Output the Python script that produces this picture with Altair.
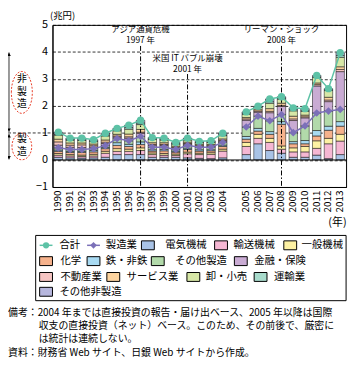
import altair as alt
import pandas as pd

FONT = "Noto Sans CJK JP"

# ---------------- data ----------------
years_a = [str(y) for y in range(1990, 2005)]
years_b = [str(y) for y in range(2005, 2014)]
years = years_a + years_b
x_domain = years_a + ["gap"] + years_b

categories = ["電気機械", "輸送機械", "一般機械", "化学", "鉄・非鉄", "その他製造",
              "金融・保険", "不動産業", "サービス業", "卸・小売", "運輸業", "その他非製造"]
colors = ["#a9c3e6", "#f5b7d3", "#fdf1a3", "#f6b28c", "#a8daf2", "#b2daaa",
          "#c9abd3", "#f6c5c3", "#fdd49f", "#d7e7a6", "#a8dbcc", "#b6b6dd"]

denki = [0.10, 0.08, 0.07, 0.08, 0.10, 0.20, 0.20, 0.20, 0.10, 0.10, 0.10, 0.08, 0.06, 0.05, 0.08,
         0.20, 0.60, 0.35, 0.25, 0.10, 0.10, 0.18, 0.05, 0.20]
yuso = [0.08, 0.07, 0.06, 0.07, 0.15, 0.12, 0.12, 0.15, 0.10, 0.08, 0.07, 0.15, 0.14, 0.16, 0.25,
        0.30, 0.20, 0.30, 0.15, 0.20, 0.20, 0.25, 0.55, 0.50]
ippan = [0.06, 0.05, 0.05, 0.06, 0.07, 0.10, 0.08, 0.10, 0.06, 0.06, 0.05, 0.06, 0.05, 0.06, 0.07,
         0.15, 0.15, 0.15, 0.12, 0.15, 0.20, 0.28, 0.20, 0.25]
kagaku = [0.08, 0.08, 0.10, 0.09, 0.10, 0.12, 0.10, 0.12, 0.07, 0.10, 0.07, 0.10, 0.08, 0.07, 0.10,
          0.12, 0.12, 0.15, 0.80, 0.15, 0.10, 0.18, 0.30, 0.30]
tetsu = [0.05, 0.04, 0.04, 0.05, 0.04, 0.10, 0.08, 0.10, 0.05, 0.05, 0.04, 0.05, 0.05, 0.04, 0.05,
         0.10, 0.10, 0.10, 0.10, 0.08, 0.12, 0.20, 0.15, 0.17]
sonota_sei = [0.08, 0.07, 0.07, 0.07, 0.07, 0.15, 0.13, 0.20, 0.09, 0.08, 0.06, 0.10, 0.09, 0.09, 0.10,
              0.35, 0.45, 0.40, 0.26, 0.33, 0.54, 0.65, 0.56, 0.45]
kinyu = [0.10, 0.08, 0.07, 0.06, 0.08, 0.06, 0.10, 0.12, 0.08, 0.08, 0.05, 0.05, 0.04, 0.04, 0.05,
         0.25, 0.15, 0.30, 0.30, 0.45, 0.30, 1.00, 0.35, 1.40]
fudosan = [0.12, 0.08, 0.10, 0.05, 0.05, 0.04, 0.05, 0.04, 0.03, 0.03, 0.02, 0.02, 0.02, 0.02, 0.03,
           0.05, 0.04, 0.05, 0.04, 0.06, 0.04, 0.05, 0.06, 0.08]
service = [0.10, 0.08, 0.07, 0.06, 0.08, 0.06, 0.10, 0.10, 0.06, 0.06, 0.05, 0.05, 0.04, 0.04, 0.05,
           0.05, 0.05, 0.10, 0.08, 0.10, 0.06, 0.06, 0.10, 0.10]
oroshi = [0.15, 0.10, 0.09, 0.09, 0.15, 0.13, 0.18, 0.18, 0.12, 0.10, 0.08, 0.08, 0.07, 0.08, 0.12,
          0.12, 0.08, 0.20, 0.15, 0.20, 0.14, 0.20, 0.25, 0.35]
unyu = [0.03, 0.03, 0.03, 0.03, 0.04, 0.04, 0.06, 0.06, 0.03, 0.03, 0.02, 0.03, 0.02, 0.02, 0.03,
        0.04, 0.02, 0.06, 0.04, 0.05, 0.04, 0.03, 0.03, 0.07]
sonota_hi = [0.08, 0.05, 0.06, 0.04, 0.06, 0.05, 0.09, 0.10, 0.04, 0.04, 0.04, 0.04, 0.03, 0.04, 0.06,
             0.05, 0.03, 0.10, 0.05, 0.06, 0.06, 0.05, 0.04, 0.10]

total = [1.03, 0.81, 0.81, 0.75, 0.99, 1.17, 1.29, 1.47, 0.83, 0.81, 0.65, 0.81, 0.69, 0.71, 0.99,
         1.78, 1.99, 2.26, 2.34, 1.93, 1.90, 3.13, 2.64, 3.97]
manuf = [0.45, 0.39, 0.39, 0.42, 0.53, 0.79, 0.71, 0.87, 0.47, 0.47, 0.39, 0.54, 0.47, 0.47, 0.65,
         1.22, 1.62, 1.45, 1.68, 1.01, 1.26, 1.74, 1.81, 1.87]

events_year = ["1997", "1997", "2001", "2001", "2008", "2008"]
events_text = ["アジア通貨危機", "1997 年", "米国 IT バブル崩壊", "2001 年", "リーマン・ショック", "2008 年"]
events_y = [4.84, 4.45, 3.77, 3.38, 4.84, 4.45]
rule_years = ["1997", "2001", "2008"]
rule_top = [4.22, 3.18, 4.22]

side_chars = ["非", "製", "造", "製", "造"]
side_y = [3.0, 2.53, 2.06, 0.79, 0.29]

notes = ["備考：2004 年までは直接投資の報告・届け出ベース、2005 年以降は国際",
         "収支の直接投資（ネット）ベース。このため、その前後で、厳密に",
         "は統計は連続しない。",
         "資料：財務省 Web サイト、日銀 Web サイトから作成。"]

TEAL = "#5dc2a6"
PURPLE = "#7b70b8"

# ---------------- tables ----------------
series = [denki, yuso, ippan, kagaku, tetsu, sonota_sei, kinyu, fudosan, service, oroshi, unyu, sonota_hi]
bar_rows = []
for ci, (cat, vals) in enumerate(zip(categories, series)):
    for yr, v in zip(years, vals):
        bar_rows.append({"year": yr, "cat": cat, "idx": ci, "value": v})
bar_df = pd.DataFrame(bar_rows)


def seg(yr):
    return "a" if int(yr) < 2005 else "b"


tot_df = pd.DataFrame({"year": years, "value": total, "seg": [seg(y) for y in years]})
man_df = pd.DataFrame({"year": years, "value": manuf, "seg": [seg(y) for y in years]})
ev_df = pd.DataFrame({"year": events_year, "value": events_y, "text": events_text})
rule_df = pd.DataFrame({"year": rule_years, "value": rule_top, "value2": [-1] * 3})

W, H = 297, 164


def X():
    return alt.X("year:N",
                 scale=alt.Scale(domain=x_domain, paddingInner=0.28, paddingOuter=0.14),
                 axis=alt.Axis(labelAngle=270, labelFontSize=10, labelFont=FONT, ticks=False,
                               labelPadding=3, labelColor="black",
                               labelExpr="datum.label == 'gap' ? '' : datum.label",
                               domainColor="black", grid=False,
                               title="(年)", titleFont=FONT, titleFontSize=11,
                               titleFontWeight="normal", titleColor="black",
                               titleAnchor="end", titleAlign="right", titleBaseline="middle",
                               titleX=W, titleY=36))


def Y(field="value", **kw):
    return alt.Y(f"{field}:Q",
                 scale=alt.Scale(domain=[-1, 5], nice=False, zero=False),
                 axis=alt.Axis(values=[-1, 0, 1, 2, 3, 4, 5], labelFontSize=11, labelFont=FONT,
                               ticks=False, labelPadding=5, labelColor="black",
                               domainColor="black",
                               grid=True, gridColor="black", gridDash=[3, 2], gridWidth=0.8,
                               title="(兆円)", titleFont=FONT, titleFontSize=9.5,
                               titleFontWeight="normal", titleColor="black", titleAngle=0,
                               titleAlign="left", titleBaseline="alphabetic",
                               titleX=-3, titleY=-6.5),
                 **kw)


color_scale = alt.Scale(domain=categories, range=colors)

bars = alt.Chart(bar_df).mark_bar(stroke="black", strokeWidth=0.5).encode(
    x=X(), y=Y(stack="zero"),
    color=alt.Color("cat:N", scale=color_scale, legend=None),
    order=alt.Order("idx:Q", sort="ascending"))

zero = alt.Chart(pd.DataFrame({"value": [0]})).mark_rule(color="black", strokeWidth=1).encode(
    y=Y(), x=alt.value(0), x2=alt.value(W))

vrules = alt.Chart(rule_df).mark_rule(color="black", strokeWidth=1, strokeDash=[5, 2, 1.5, 2]).encode(
    x=X(), y=Y(), y2="value2:Q")

ev_text = alt.Chart(ev_df).mark_text(font=FONT, fontSize=8.5, color="black").encode(
    x=X(), y=Y(), text="text:N")

tot_line = alt.Chart(tot_df).mark_line(color=TEAL, strokeWidth=1.5).encode(
    x=X(), y=Y(), detail="seg:N")
tot_pts = alt.Chart(tot_df).mark_point(shape="circle", filled=True, size=55, color=TEAL, opacity=1).encode(
    x=X(), y=Y())
man_line = alt.Chart(man_df).mark_line(color=PURPLE, strokeWidth=1.5).encode(
    x=X(), y=Y(), detail="seg:N")
man_pts = alt.Chart(man_df).mark_point(shape="diamond", filled=True, size=60, color=PURPLE, opacity=1).encode(
    x=X(), y=Y())

# left side annotation (non-manufacturing / manufacturing ranges)
one_df = pd.DataFrame({"value": [1]})
left_dash = alt.Chart(one_df).mark_rule(color="black", strokeWidth=0.8, strokeDash=[3, 2]).encode(
    y=Y(), x=alt.value(-45), x2=alt.value(0))
arrow_df = pd.DataFrame({"value": [3.98, 0.96], "value2": [1.04, 0.02]})
arrows = alt.Chart(arrow_df).mark_rule(color="black", strokeWidth=0.8).encode(
    y=Y(), y2="value2:Q", x=alt.value(-44))
up_df = pd.DataFrame({"value": [3.91, 0.89]})
down_df = pd.DataFrame({"value": [1.11, 0.09]})
heads_up = alt.Chart(up_df).mark_point(shape="triangle-up", filled=True, size=14, color="black", opacity=1).encode(
    y=Y(), x=alt.value(-44))
heads_dn = alt.Chart(down_df).mark_point(shape="triangle-down", filled=True, size=14, color="black", opacity=1).encode(
    y=Y(), x=alt.value(-44))
ell1 = alt.Chart(pd.DataFrame({"value": [2.5]})).mark_point(
    shape="M-0.5,0 A0.5,1 0 1,1 0.5,0 A0.5,1 0 1,1 -0.5,0 Z",
    size=1800, stroke="#e8412c", strokeWidth=1, strokeDash=[2, 1.5], filled=False, opacity=1).encode(
    y=Y(), x=alt.value(-31))
ell2 = alt.Chart(pd.DataFrame({"value": [0.5]})).mark_point(
    shape="M-0.74,0 A0.74,1 0 1,1 0.74,0 A0.74,1 0 1,1 -0.74,0 Z",
    size=730, stroke="#e8412c", strokeWidth=1, strokeDash=[2, 1.5], filled=False, opacity=1).encode(
    y=Y(), x=alt.value(-31))
vt_df = pd.DataFrame({"value": side_y, "text": side_chars})
vtext = alt.Chart(vt_df).mark_text(font=FONT, fontSize=10, baseline="middle", color="black").encode(
    y=Y(), x=alt.value(-31), text="text:N")

# legend (manual, flowing layout as in the original)
leg_items = [
    ("合計", "line", -13, 7, 0), ("製造業", "line2", 35, 54, 0),
    ("電気機械", "box", 90, 114, 0), ("輸送機械", "box", 164, 183, 0), ("一般機械", "box", 234, 252, 0),
    ("化学", "box", -13, 8, 1), ("鉄・非鉄", "box", 35, 54, 1), ("その他製造", "box", 100, 124, 1),
    ("金融・保険", "box", 184, 204, 1),
    ("不動産業", "box", -13, 8, 2), ("サービス業", "box", 55, 75, 2), ("卸・小売", "box", 136, 155, 2),
    ("運輸業", "box", 204, 224, 2),
    ("その他非製造", "box", -13, 7, 3),
]
row_y = [223, 239, 255, 270]
leg_df = pd.DataFrame([{"cat": n, "kind": k, "sx": sx, "sx2": sx + 13, "sxm": sx + 6.5,
                        "tx": tx, "ty": row_y[r], "ty1": row_y[r] - 4.5, "ty2": row_y[r] + 4.5}
                       for n, k, sx, tx, r in leg_items])


def PX(f):
    return alt.X(f"{f}:Q", scale=None, axis=None)


def PY(f):
    return alt.Y(f"{f}:Q", scale=None, axis=None)


leg_box = alt.Chart(pd.DataFrame({"a": [0]})).mark_rect(fill="white", stroke="black", strokeWidth=1).encode(
    x=alt.value(-17), x2=alt.value(297), y=alt.value(213), y2=alt.value(279))
leg_sw = alt.Chart(leg_df).transform_filter("datum.kind == 'box'").mark_rect(
    stroke="black", strokeWidth=1).encode(
    x=PX("sx"), x2="sx2:Q", y=PY("ty1"), y2="ty2:Q",
    color=alt.Color("cat:N", scale=color_scale, legend=None))
leg_l1 = alt.Chart(leg_df).transform_filter("datum.kind == 'line'").mark_rule(
    color=TEAL, strokeWidth=1.5).encode(x=PX("sx"), x2="sx2:Q", y=PY("ty"))
leg_p1 = alt.Chart(leg_df).transform_filter("datum.kind == 'line'").mark_point(
    shape="circle", filled=True, size=40, color=TEAL, opacity=1).encode(x=PX("sxm"), y=PY("ty"))
leg_l2 = alt.Chart(leg_df).transform_filter("datum.kind == 'line2'").mark_rule(
    color=PURPLE, strokeWidth=1.5).encode(x=PX("sx"), x2="sx2:Q", y=PY("ty"))
leg_p2 = alt.Chart(leg_df).transform_filter("datum.kind == 'line2'").mark_point(
    shape="diamond", filled=True, size=45, color=PURPLE, opacity=1).encode(x=PX("sxm"), y=PY("ty"))
leg_tx = alt.Chart(leg_df).mark_text(font=FONT, fontSize=10.5, align="left", baseline="middle",
                                     color="black").encode(x=PX("tx"), y=PY("ty"), text="cat:N")

note_df = pd.DataFrame({"text": notes, "px": [-45, -14, -14, -45], "py": [291, 304.5, 318, 331.5]})
note_tx = alt.Chart(note_df).mark_text(font=FONT, fontSize=10, align="left", baseline="middle",
                                       color="black").encode(x=PX("px"), y=PY("py"), text="text:N")

chart = alt.layer(
    bars, zero, vrules, ev_text, tot_line, tot_pts, man_line, man_pts,
    left_dash, arrows, heads_up, heads_dn, ell1, ell2, vtext,
    leg_box, leg_sw, leg_l1, leg_p1, leg_l2, leg_p2, leg_tx, note_tx
).properties(
    width=W, height=H,
    autosize=alt.AutoSizeParams(type="none"),
    padding={"left": 45, "top": 15, "right": 7, "bottom": 178},
    background="white"
).configure_view(stroke="black", strokeWidth=1)

chart.save("out.html", embed_options={"renderer": "svg", "actions": False})
